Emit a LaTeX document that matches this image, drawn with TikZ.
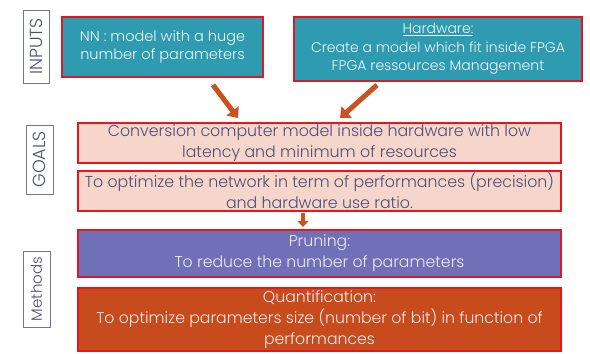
\documentclass[tikz,border=0pt]{standalone}
\usepackage{fontspec}
\setmainfont{Poppins}[UprightFont=* Light]
\usetikzlibrary{arrows.meta}
\definecolor{tealbox}{HTML}{2F9BB0}
\definecolor{pinkbox}{HTML}{F6D5CA}
\definecolor{purplebox}{HTML}{6F70B8}
\definecolor{rustbox}{HTML}{C74B1C}
\definecolor{edgered}{HTML}{E8161C}
\definecolor{arrowrust}{HTML}{C9521E}
\definecolor{slatetext}{HTML}{4C4F78}
\definecolor{tagedge}{HTML}{7373A0}
\tikzset{
  x=1pt, y=-1pt,
  stage/.style={draw=edgered, line width=1.4pt, inner sep=0pt, align=center},
  inbox/.style={stage, fill=tealbox, text=white!92!tealbox, font=\fontsize{14.5}{18.5}\selectfont},
  goalbox/.style={stage, fill=pinkbox, text=slatetext, font=\fontsize{15.8}{21}\selectfont},
  methbox/.style={stage, text=white!92!black, font=\fontsize{15.7}{21}\selectfont},
  tag/.style={draw=tagedge, line width=0.8pt, fill=white, text=slatetext, inner sep=0pt,
    rotate=90, align=center},
  flow/.style={draw=arrowrust, line width=5pt, -{Triangle[width=15pt,length=9pt]}},
}
\begin{document}
\begin{tikzpicture}
\useasboundingbox (0,0) rectangle (590,354);

% side tags (rotated: minimum width is the vertical extent)
\node[tag, font=\fontsize{17.5}{20}\selectfont, minimum width=73pt, minimum height=26pt] (tin) at (36,46.5) {INPUTS};
\node[tag, font=\fontsize{17.5}{20}\selectfont, minimum width=69pt, minimum height=27pt] (tgo) at (39.5,159.5) {GOALS};
\node[tag, font=\fontsize{15}{18}\selectfont, minimum width=76pt, minimum height=27pt] (tme) at (36.5,289) {Methods};

% inputs
\node[inbox, minimum width=201pt, minimum height=60pt] (nn) at (162.5,47)
  {NN : model with a huge\\number of parameters};
\node[inbox, font=\fontsize{14}{18.5}\selectfont, minimum width=288pt, minimum height=64pt] (hw) at (438,49)
  {\underline{Hardware:}\\Create a model which fit inside FPGA\\FPGA ressources Management};

% goals
\node[goalbox, minimum width=483pt, minimum height=40pt] (g1) at (319.5,143)
  {Conversion computer model inside hardware with low\\latency and minimum of resources};
\node[goalbox, minimum width=483pt, minimum height=40pt] (g2) at (319.5,191)
  {To optimize the network in term of performances (precision)\\and hardware use ratio.};

% methods
\node[methbox, fill=purplebox, minimum width=483pt, minimum height=47pt] (pr) at (319.5,253.5)
  {Pruning:\\To reduce the number of parameters};
\node[methbox, fill=rustbox, minimum width=483pt, minimum height=63pt] (qu) at (319.5,319.5)
  {Quantification:\\To optimize parameters size (number of bit) in function of\\performances};

% arrow ends
\coordinate (a1s) at (213,85);
\coordinate (a1e) at (238,118);
\coordinate (a2s) at (377,85);
\coordinate (a2e) at (340,118);
\coordinate (a3s) at (303,213);
\coordinate (a3e) at (303,227);

\draw[flow] (a1s) -- (a1e);
\draw[flow] (a2s) -- (a2e);
\draw[draw=arrowrust, line width=4pt, -{Triangle[width=11pt,length=6pt]}] (a3s) -- (a3e);
\end{tikzpicture}
\end{document}
